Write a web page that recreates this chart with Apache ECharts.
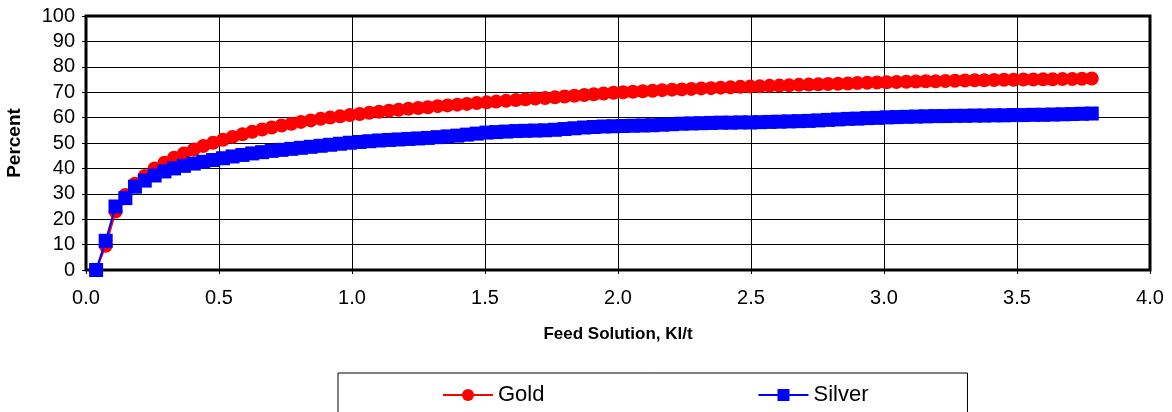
<!DOCTYPE html>
<html>
<head>
<meta charset="utf-8">
<title>Gold and Silver Extraction vs Feed Solution</title>
<script src="https://cdn.jsdelivr.net/npm/echarts@6/dist/echarts.min.js"></script>
<style>
  html, body { margin: 0; padding: 0; background: #fff; }
  #chart { width: 1172px; height: 412px; }
</style>
</head>
<body>
<div id="chart"></div>
<script>
// Cumulative feed solution (Kl/t) at each sampling point
const feedSolution = [
  0.038, 0.074, 0.111, 0.148, 0.184, 0.221, 0.258, 0.295, 0.331, 0.368,
  0.405, 0.441, 0.478, 0.515, 0.551, 0.588, 0.625, 0.662, 0.698, 0.735,
  0.772, 0.808, 0.845, 0.882, 0.918, 0.955, 0.992, 1.029, 1.065, 1.102,
  1.139, 1.175, 1.212, 1.249, 1.285, 1.322, 1.359, 1.396, 1.432, 1.469,
  1.506, 1.542, 1.579, 1.616, 1.652, 1.689, 1.726, 1.763, 1.799, 1.836,
  1.873, 1.909, 1.946, 1.983, 2.019, 2.056, 2.093, 2.130, 2.166, 2.203,
  2.240, 2.276, 2.313, 2.350, 2.386, 2.423, 2.460, 2.497, 2.533, 2.570,
  2.607, 2.643, 2.680, 2.717, 2.753, 2.790, 2.827, 2.864, 2.900, 2.937,
  2.974, 3.010, 3.047, 3.084, 3.120, 3.157, 3.194, 3.231, 3.267, 3.304,
  3.341, 3.377, 3.414, 3.451, 3.487, 3.524, 3.561, 3.598, 3.634, 3.671,
  3.708, 3.744, 3.781
];

// Gold extraction, percent
const goldPercent = [
  0, 9.5, 23, 29.5, 34, 37, 40, 42.2, 44.2, 45.9,
  47.4, 48.8, 50.1, 51.3, 52.4, 53.4, 54.4, 55.3, 56.1, 56.9,
  57.6, 58.3, 58.9, 59.5, 60.0, 60.5, 61.0, 61.4, 61.9, 62.3,
  62.7, 63.1, 63.5, 63.8, 64.1, 64.5, 64.8, 65.1, 65.4, 65.7,
  66.0, 66.3, 66.6, 66.9, 67.2, 67.5, 67.7, 68.0, 68.3, 68.6,
  68.9, 69.2, 69.5, 69.8, 70.0, 70.2, 70.4, 70.6, 70.8, 71.0,
  71.1, 71.3, 71.5, 71.6, 71.8, 71.9, 72.1, 72.2, 72.3, 72.5,
  72.6, 72.7, 72.9, 73.0, 73.1, 73.2, 73.3, 73.4, 73.6, 73.7,
  73.8, 73.9, 74.0, 74.1, 74.2, 74.3, 74.3, 74.4, 74.5, 74.6,
  74.7, 74.7, 74.8, 74.9, 74.9, 75.0, 75.0, 75.1, 75.1, 75.2,
  75.2, 75.3, 75.4
];

// Silver extraction, percent
const silverPercent = [
  0, 11.5, 25, 28.3, 32.8, 35.2, 37.2, 38.8, 40.0, 41.0,
  41.9, 42.6, 43.3, 44.0, 44.7, 45.3, 45.9, 46.4, 46.9, 47.3,
  47.7, 48.1, 48.5, 48.9, 49.3, 49.7, 50.1, 50.4, 50.7, 51.0,
  51.2, 51.4, 51.6, 51.8, 52.0, 52.3, 52.6, 52.9, 53.3, 53.7,
  54.1, 54.3, 54.5, 54.7, 54.8, 54.9, 55.0, 55.2, 55.5, 55.8,
  56.1, 56.3, 56.5, 56.6, 56.7, 56.8, 56.9, 57.0, 57.2, 57.4,
  57.6, 57.7, 57.8, 57.9, 58.0, 58.0, 58.1, 58.1, 58.2, 58.3,
  58.4, 58.5, 58.6, 58.7, 58.9, 59.1, 59.3, 59.5, 59.6, 59.8,
  59.9, 60.1, 60.2, 60.3, 60.4, 60.5, 60.6, 60.6, 60.7, 60.7,
  60.8, 60.8, 60.9, 60.9, 61.0, 61.0, 61.1, 61.1, 61.2, 61.3,
  61.4, 61.5, 61.6
];

const seriesNames = ['Gold', 'Silver'];
const xAxisTitle = 'Feed Solution, Kl/t';
const yAxisTitle = 'Percent';

const FONT = '"Liberation Sans", Arial, Helvetica, sans-serif';

const pairs = (xs, ys) => xs.map((x, i) => [x, ys[i]]);

const chart = echarts.init(document.getElementById('chart'), null, { renderer: 'canvas' });

chart.setOption({
  animation: false,
  backgroundColor: '#ffffff',
  textStyle: { fontFamily: FONT, color: '#000' },
  grid: {
    left: 86, right: 22, top: 16, bottom: 142,
    containLabel: false,
    outerBoundsMode: 'none',
    show: true,
    borderColor: '#000',
    borderWidth: 3,
    backgroundColor: '#fff'
  },
  legend: {
    data: seriesNames,
    left: 338,
    top: 373,
    orient: 'horizontal',
    padding: [11, 99, 30, 104],
    itemGap: 213,
    itemWidth: 50,
    itemHeight: 15,
    borderColor: '#000',
    borderWidth: 1,
    textStyle: { fontFamily: FONT, fontSize: 22, color: '#000' }
  },
  xAxis: {
    type: 'value',
    min: 0, max: 4, interval: 0.5,
    name: xAxisTitle,
    nameLocation: 'middle',
    nameGap: 56,
    nameTextStyle: { fontFamily: FONT, fontSize: 17, fontWeight: 'bold', color: '#000' },
    axisLine: { show: false },
    axisTick: { show: true, length: 4, inside: false, lineStyle: { color: '#000', width: 1 } },
    axisLabel: {
      margin: 18,
      fontFamily: FONT, fontSize: 20, color: '#000',
      formatter: v => v.toFixed(1)
    },
    splitLine: { show: true, lineStyle: { color: '#000', width: 1 } }
  },
  yAxis: {
    type: 'value',
    min: 0, max: 100, interval: 10,
    name: yAxisTitle,
    nameLocation: 'middle',
    nameGap: 62,
    nameRotate: 90,
    nameTextStyle: { fontFamily: FONT, fontSize: 19, fontWeight: 'bold', color: '#000' },
    axisLine: { show: false },
    axisTick: { show: true, length: 4, lineStyle: { color: '#000', width: 1 } },
    axisLabel: { margin: 11, fontFamily: FONT, fontSize: 20, color: '#000' },
    splitLine: { show: true, lineStyle: { color: '#000', width: 1 } }
  },
  series: [
    {
      name: seriesNames[0],
      type: 'line',
      data: pairs(feedSolution, goldPercent),
      symbol: 'circle',
      symbolSize: 14,
      showAllSymbol: true,
      color: '#ff0000',
      lineStyle: { color: '#ff0000', width: 2 },
      itemStyle: { color: '#ff0000', borderWidth: 0 },
      z: 2
    },
    {
      name: seriesNames[1],
      type: 'line',
      data: pairs(feedSolution, silverPercent),
      symbol: 'rect',
      symbolSize: 14,
      showAllSymbol: true,
      color: '#0000ff',
      lineStyle: { color: '#0000ff', width: 2 },
      itemStyle: { color: '#0000ff', borderWidth: 0 },
      z: 3
    }
  ]
});
</script>
</body>
</html>
